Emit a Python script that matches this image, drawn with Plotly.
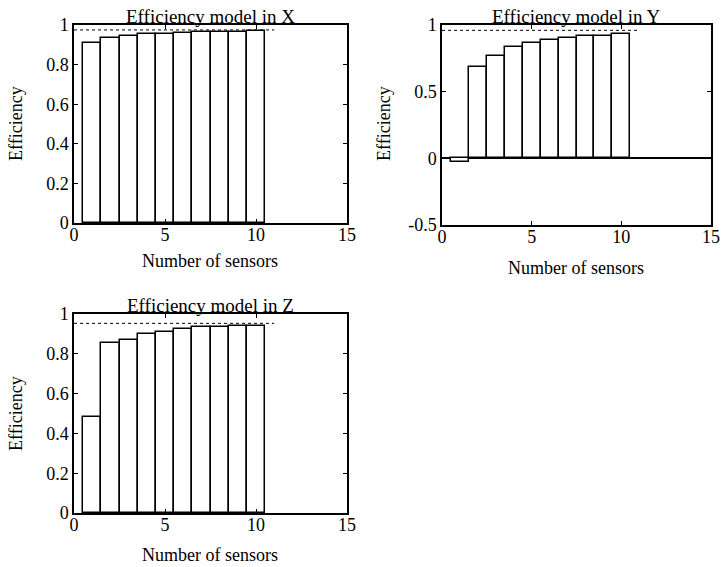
import plotly.graph_objects as go

sensors = [1, 2, 3, 4, 5, 6, 7, 8, 9, 10]
eff_x = [0.911, 0.936, 0.944, 0.956, 0.953, 0.958, 0.963, 0.965, 0.967, 0.968]
eff_y = [-0.03, 0.686, 0.765, 0.833, 0.866, 0.891, 0.906, 0.916, 0.918, 0.936]
eff_z = [0.481, 0.856, 0.869, 0.898, 0.910, 0.926, 0.936, 0.936, 0.941, 0.940]
ref_x = 0.975
ref_y = 0.96
ref_z = 0.953
ref_span = [0, 11]
titles = ["Efficiency model in X", "Efficiency model in Y", "Efficiency model in Z"]
xtick_vals = [0, 5, 10, 15]
ytick_vals_xz = [0, 0.2, 0.4, 0.6, 0.8, 1]
ytick_text_xz = ["0", "0.2", "0.4", "0.6", "0.8", "1"]
ytick_vals_y = [-0.5, 0, 0.5, 1]
ytick_text_y = ["-0.5", "0", "0.5", "1"]

W, H = 721, 567
FONT = "Liberation Serif"

def px(v):
    return v / W

def py(v):
    return 1 - v / H

fig = go.Figure()

panels = [
    dict(vals=eff_x, ref=ref_x, xa="x", ya="y", xd=[px(74), px(347)], yd=[py(223), py(25)],
         yr=[0, 1], tv=ytick_vals_xz, tt=ytick_text_xz),
    dict(vals=eff_y, ref=ref_y, xa="x2", ya="y2", xd=[px(442), px(711)], yd=[py(225), py(25)],
         yr=[-0.5, 1], tv=ytick_vals_y, tt=ytick_text_y),
    dict(vals=eff_z, ref=ref_z, xa="x3", ya="y3", xd=[px(74), px(347)], yd=[py(513), py(314)],
         yr=[0, 1], tv=ytick_vals_xz, tt=ytick_text_xz),
]

axfont = dict(family=FONT, size=18, color="black")
for i, p in enumerate(panels):
    fig.add_trace(go.Bar(x=sensors, y=p["vals"], width=1, xaxis=p["xa"], yaxis=p["ya"],
                         marker=dict(color="white", line=dict(color="black", width=1.5)),
                         showlegend=False))
    fig.add_trace(go.Scatter(x=ref_span, y=[p["ref"], p["ref"]], mode="lines",
                             xaxis=p["xa"], yaxis=p["ya"],
                             line=dict(color="black", width=1, dash="dot"), showlegend=False))
    sfx = "" if i == 0 else str(i + 1)
    fig.update_layout(**{
        "xaxis" + sfx: dict(domain=p["xd"], range=[0, 15], tickvals=xtick_vals,
                            ticks="inside", ticklen=4, tickwidth=1, tickcolor="black",
                            showline=True, linecolor="black", linewidth=1.5, mirror="ticks",
                            showgrid=False, zeroline=False, tickfont=axfont,
                            ticklabelstandoff=-5,
                            automargin=False, anchor="y" + sfx),
        "yaxis" + sfx: dict(domain=p["yd"], range=p["yr"], tickvals=p["tv"], ticktext=p["tt"],
                            ticks="inside", ticklen=4, tickwidth=1, tickcolor="black",
                            showline=True, linecolor="black", linewidth=1.5, mirror="ticks",
                            showgrid=False, zeroline=(i == 1), zerolinecolor="black",
                            zerolinewidth=1.5, tickfont=axfont, automargin=False,
                            anchor="x" + sfx),
    })

ann = []
tfont = dict(family=FONT, size=19, color="black")
lfont = dict(family=FONT, size=18, color="black")
# titles
for t, xc, yc in [(titles[0], 210, 16), (titles[1], 576, 16), (titles[2], 210, 305)]:
    ann.append(dict(text=t, x=px(xc), y=py(yc), xref="paper", yref="paper",
                    xanchor="center", yanchor="middle", showarrow=False, font=tfont))
# x labels
for xc, yc in [(210, 261), (576, 268), (210, 555)]:
    ann.append(dict(text="Number of sensors", x=px(xc), y=py(yc), xref="paper", yref="paper",
                    xanchor="center", yanchor="middle", showarrow=False, font=lfont))
# y labels
for xc, yc in [(16, 124), (384, 124), (16, 414)]:
    ann.append(dict(text="Efficiency", x=px(xc), y=py(yc), xref="paper", yref="paper",
                    xanchor="center", yanchor="middle", textangle=-90, showarrow=False,
                    font=lfont))

fig.update_layout(width=W, height=H, margin=dict(l=0, r=0, t=0, b=0),
                  paper_bgcolor="white", plot_bgcolor="white", bargap=0,
                  annotations=ann)

fig.write_html("out.html", config={"displayModeBar": False},
               post_script="document.body.style.margin='0';document.body.style.padding='0';")
